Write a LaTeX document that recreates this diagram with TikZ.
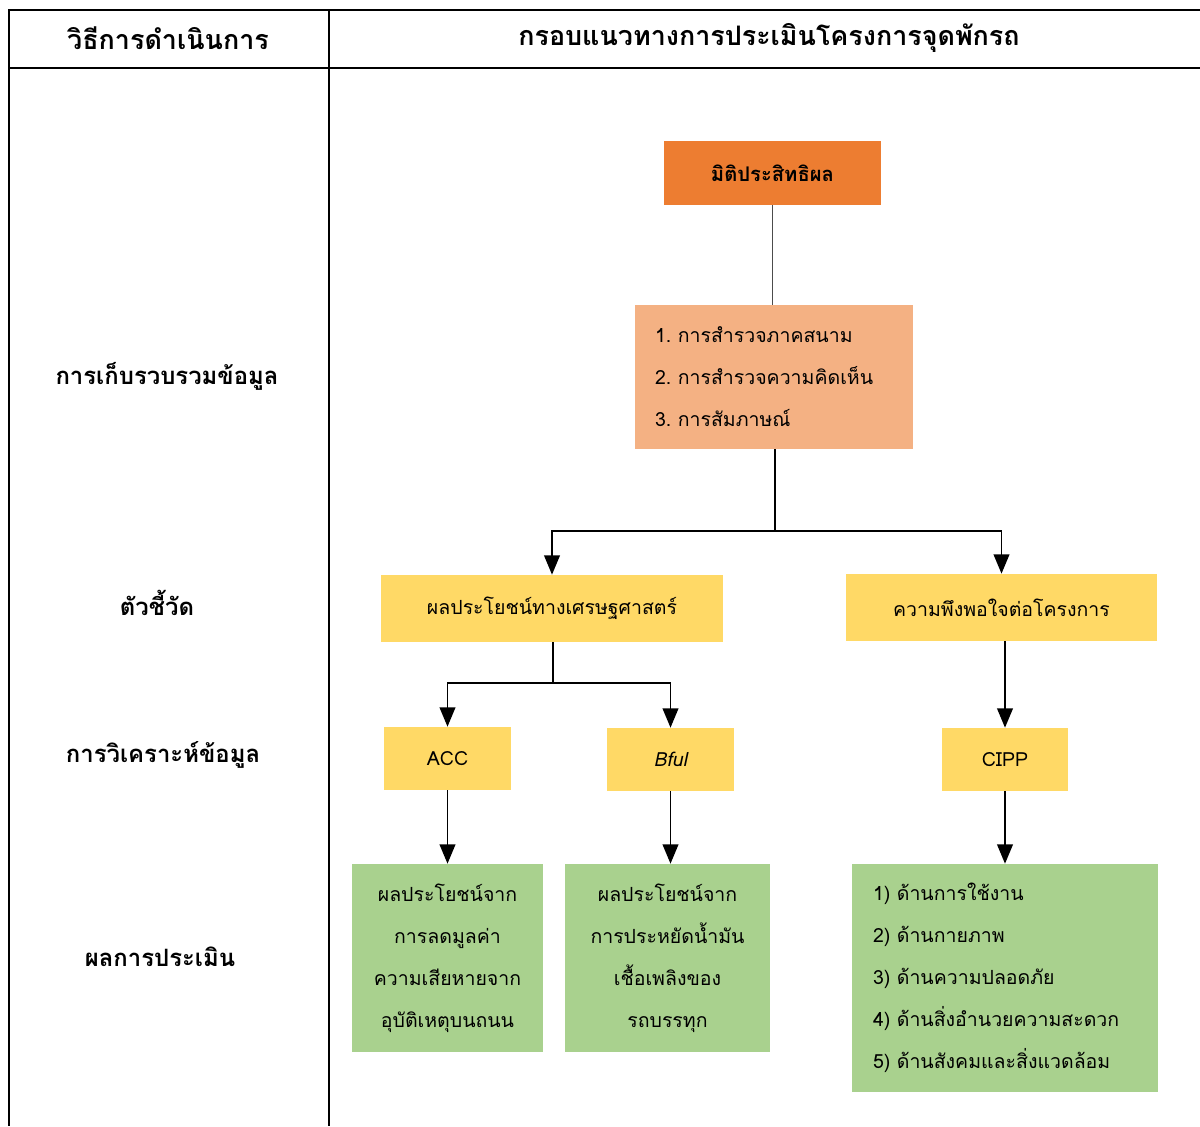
\documentclass[tikz,border=0pt]{standalone}
\usepackage{fontspec}
\setmainfont[Script=Thai]{Loma}
\usetikzlibrary{arrows.meta}
\definecolor{dimorange}{HTML}{ED7D31}
\definecolor{methodpeach}{HTML}{F4B183}
\definecolor{indyellow}{HTML}{FFD966}
\definecolor{resgreen}{HTML}{A9D18E}
\begin{document}
\begin{tikzpicture}[x=0.02cm,y=-0.02cm,
  tline/.style={line width=1.1pt},
  arr/.style={line width=0.8pt,-{Triangle[length=11pt,width=9pt]}},
  box/.style={inner sep=0pt, align=center, font=\fontsize{11.1}{23.9}\selectfont},
  rowlabel/.style={font=\fontsize{13.6}{16}\selectfont\bfseries},
  headlabel/.style={font=\fontsize{15.3}{18}\selectfont\bfseries}]
\useasboundingbox (0,0) rectangle (1200,1126);
% table
\draw[tline] (8,10) -- (1200,10);
\draw[tline] (8,68) -- (1200,68);
\draw[tline] (9,10) -- (9,1126);
\draw[tline] (329,10) -- (329,1126);
\node[headlabel] (hmethod) at (168,38) {วิธีการดำเนินการ};
\node[headlabel] (hframe) at (769,38) {กรอบแนวทางการประเมินโครงการจุดพักรถ};
\node[rowlabel] (rcollect) at (167,376) {การเก็บรวบรวมข้อมูล};
\node[rowlabel] (rindic) at (157,603) {ตัวชี้วัด};
\node[rowlabel] (ranalys) at (163,755) {การวิเคราะห์ข้อมูล};
\node[rowlabel] (rresult) at (160,957) {ผลการประเมิน};
% boxes
\node[box, fill=dimorange, minimum width=4.34cm, minimum height=1.28cm, font=\fontsize{11.5}{15}\selectfont\bfseries] (effect) at (772.5,173) {มิติประสิทธิผล};
\node[box, fill=methodpeach, minimum width=5.56cm, minimum height=2.88cm, align=left, text width=4.76cm, inner xsep=0.4cm] (survey) at (774,377)
  {1.~การสำรวจภาคสนาม\\2.~การสำรวจความคิดเห็น\\3.~การสัมภาษณ์};
\node[box, fill=indyellow, minimum width=6.84cm, minimum height=1.34cm] (econ) at (552,608.5) {ผลประโยชน์ทางเศรษฐศาสตร์};
\node[box, fill=indyellow, minimum width=6.22cm, minimum height=1.34cm] (satis) at (1001.5,607.5) {ความพึงพอใจต่อโครงการ};
\node[box, fill=indyellow, minimum width=2.54cm, minimum height=1.26cm] (acc) at (447.5,758.5) {ACC};
\node[box, fill=indyellow, minimum width=2.54cm, minimum height=1.26cm] (bful) at (670.5,759.5) {\itshape Bful};
\node[box, fill=indyellow, minimum width=2.52cm, minimum height=1.26cm] (cipp) at (1005,759.5) {CIPP};
\node[box, fill=resgreen, minimum width=3.82cm, minimum height=3.76cm] (accres) at (447.5,958)
  {ผลประโยชน์จาก\\การลดมูลค่า\\ความเสียหายจาก\\อุบัติเหตุบนถนน};
\node[box, fill=resgreen, minimum width=4.1cm, minimum height=3.76cm] (bfulres) at (667.5,958)
  {ผลประโยชน์จาก\\การประหยัดน้ำมัน\\เชื้อเพลิงของ\\รถบรรทุก};
\node[box, fill=resgreen, minimum width=6.12cm, minimum height=4.56cm, align=left, text width=5.28cm, inner xsep=0.42cm] (cippres) at (1005,978)
  {1)~ด้านการใช้งาน\\2)~ด้านกายภาพ\\3)~ด้านความปลอดภัย\\4)~ด้านสิ่งอำนวยความสะดวก\\5)~ด้านสังคมและสิ่งแวดล้อม};
% connectors
\coordinate (split1) at (775,531);
\coordinate (split2) at (553,683);
\draw[gray!60!black, line width=0.8pt] (effect.south) -- (effect.south |- survey.north);
\draw[line width=0.8pt] (survey.south -| split1) -- (split1);
\draw[arr] (split1) -| (econ.north);
\draw[arr] (split1) -| (satis.north);
\draw[line width=0.8pt] (econ.south -| split2) -- (split2);
\draw[arr] (split2) -| (acc.north);
\draw[arr] (split2) -| (bful.north);
\draw[arr] (cipp.north |- satis.south) -- (cipp.north);
\draw[arr] (acc.south) -- (accres.north);
\draw[arr] (bful.south) -- (bful.south |- bfulres.north);
\draw[arr] (cipp.south) -- (cippres.north);
\end{tikzpicture}
\end{document}
